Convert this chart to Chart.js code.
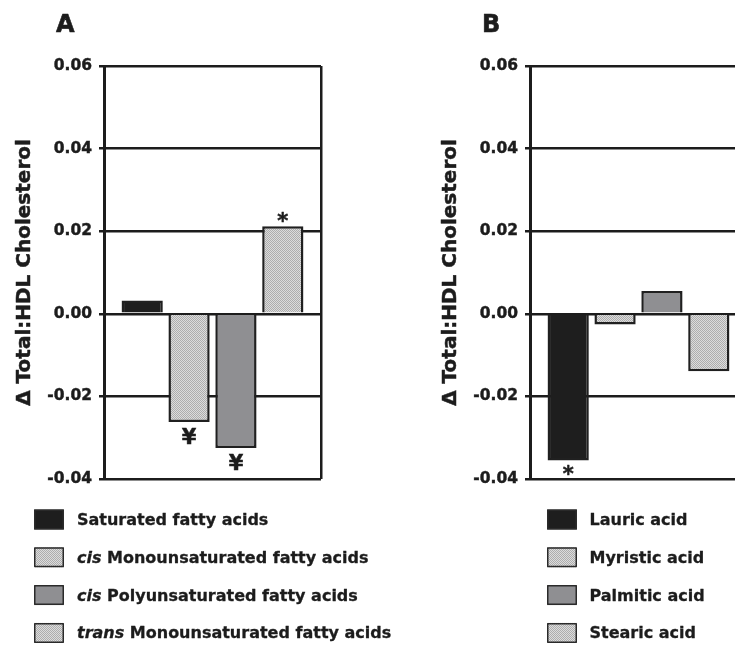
<!DOCTYPE html>
<html><head><meta charset="utf-8">
<script src="https://cdn.jsdelivr.net/npm/chart.js@4.4.1/dist/chart.umd.min.js"></script>
<style>
html,body{margin:0;padding:0;background:#fff;overflow:hidden}
#wrap{position:relative;width:735px;height:645px;overflow:hidden;background:#fff}
canvas{position:absolute;top:0}
</style></head><body>
<div id="wrap"><canvas id="cA" width="426" height="645" style="left:0"></canvas><canvas id="cB" width="426" height="645" style="left:426px"></canvas></div>
<script>
// ---- data ----
const categoriesA = ['Saturated fatty acids','cis Monounsaturated fatty acids','cis Polyunsaturated fatty acids','trans Monounsaturated fatty acids'];
const italicA = ['', 'cis', 'cis', 'trans'];
const valuesA = [0.0032, -0.0262, -0.0325, 0.0212];
const marksA = ['', '¥', '¥', '*'];

const categoriesB = ['Lauric acid','Myristic acid','Palmitic acid','Stearic acid'];
const italicB = ['', '', '', ''];
const valuesB = [-0.0355, -0.0026, 0.0055, -0.0139];
const marksB = ['*', '', '', ''];

const yTickValues = [-0.04, -0.02, 0, 0.02, 0.04, 0.06];
const yTickLabels = ['-0.04', '-0.02', '0.00', '0.02', '0.04', '0.06'];
const yTitle = 'Δ Total:HDL Cholesterol';

// ---- styles ----
const INK = '#1c1c1c';
const FONT = '"DejaVu Sans"';
function makeStipple(){
  const c = document.createElement('canvas'); c.width = 2; c.height = 2;
  const g = c.getContext('2d');
  g.fillStyle = '#dcdcdc'; g.fillRect(0,0,2,2);
  g.fillStyle = '#adadad'; g.fillRect(0,0,1,1); g.fillRect(1,1,1,1);
  return g.createPattern(c, 'repeat');
}
const stip = makeStipple();
const fills = ['#1e1e1e', stip, '#8f8f92', stip];

function heavyText(ctx, s, x, y, w) {
  ctx.lineWidth = w; ctx.strokeStyle = INK; ctx.lineJoin = 'round';
  ctx.strokeText(s, x, y);
  ctx.fillText(s, x, y);
}

const decor = {
  id: 'decor',
  afterDatasetsDraw(chart, args, opts) {
    const ctx = chart.ctx;
    const ca = chart.chartArea;
    ctx.save();
    ctx.fillStyle = INK;
    ctx.textAlign = 'left';
    ctx.textBaseline = 'alphabetic';
    ctx.font = 'bold 24px ' + FONT;
    heavyText(ctx, opts.letter, 56, 31.5, 0.6);
    // y title
    ctx.save();
    ctx.translate(24.7, (ca.top + ca.bottom) / 2);
    ctx.rotate(-Math.PI / 2);
    ctx.textAlign = 'center'; ctx.textBaseline = 'middle';
    ctx.font = 'bold 20px ' + FONT;
    heavyText(ctx, opts.title, 0, 0, 0.5);
    ctx.restore();
    // significance marks
    ctx.font = 'bold 21px ' + FONT;
    ctx.textAlign = 'center';
    chart.data.datasets.forEach((ds, i) => {
      const m = opts.marks[i]; if (!m) return;
      const el = chart.getDatasetMeta(i).data[0];
      const v = ds.data[0];
      let y;
      if (v < 0) y = el.y + (m === '¥' ? 22 : 21);
      else y = el.y + 2;
      heavyText(ctx, m, el.x, y, 0.5);
    });
    // legend
    ctx.textAlign = 'left';
    chart.data.datasets.forEach((ds, i) => {
      const top = opts.legendY + i * opts.legendStep;
      ctx.fillStyle = ds.backgroundColor;
      ctx.fillRect(opts.legendX, top, 30, 20);
      ctx.strokeStyle = '#2a2a2a'; ctx.lineWidth = 1.5;
      ctx.strokeRect(opts.legendX + 0.75, top + 0.75, 28.5, 18.5);
      ctx.fillStyle = INK;
      let x = opts.textX; const base = top + 15.5;
      const it = opts.italic[i];
      let rest = ds.label;
      if (it) {
        ctx.font = 'italic bold 16px ' + FONT;
        heavyText(ctx, it, x, base, 0.3);
        x += ctx.measureText(it + ' ').width;
        rest = ds.label.slice(it.length + 1);
      }
      ctx.font = 'bold 16px ' + FONT;
      heavyText(ctx, rest, x, base, 0.3);
    });
    ctx.restore();
  }
};

function build(id, cats, vals, italic, marks, letter, legendX, textX) {
  return new Chart(document.getElementById(id), {
    type: 'bar',
    data: {
      labels: [''],
      datasets: cats.map((c, i) => ({
        label: c, data: [vals[i]], backgroundColor: fills[i],
        borderColor: '#202020', borderWidth: 2.5, borderSkipped: 'start',
        categoryPercentage: 0.864, barPercentage: 0.88
      }))
    },
    options: {
      responsive: false, animation: false, devicePixelRatio: 1,
      layout: { padding: { left: 0, top: 66, right: 105, bottom: 166 } },
      plugins: {
        legend: { display: false }, tooltip: { enabled: false },
        decor: { letter, marks, italic, legendX, textX, legendY: 509.5, legendStep: 37.8, title: yTitle }
      },
      scales: {
        x: {
          offset: true,
          grid: { display: true, offset: true, drawTicks: false, color: INK, lineWidth: 2.5 },
          ticks: { display: false }, border: { display: false },
          afterFit(s) { s.height = 0; }
        },
        y: {
          min: -0.04, max: 0.06,
          afterBuildTicks(s) { s.ticks = yTickValues.map(v => ({ value: v })); },
          ticks: {
            callback: (v, i) => yTickLabels[i],
            font: { family: 'DejaVu Sans', weight: 'bold', size: 15.5 },
            color: INK, padding: 7, textStrokeColor: INK, textStrokeWidth: 0.4
          },
          grid: { color: INK, lineWidth: 2.5, tickLength: 5 },
          border: { display: true, color: INK, width: 3 },
          title: { display: false },
          afterFit(s) { s.width = 104; }
        }
      }
    },
    plugins: [decor]
  });
}
build('cA', categoriesA, valuesA, italicA, marksA, 'A', 34, 77);
build('cB', categoriesB, valuesB, italicB, marksB, 'B', 121, 163.5);
</script>
</body></html>
